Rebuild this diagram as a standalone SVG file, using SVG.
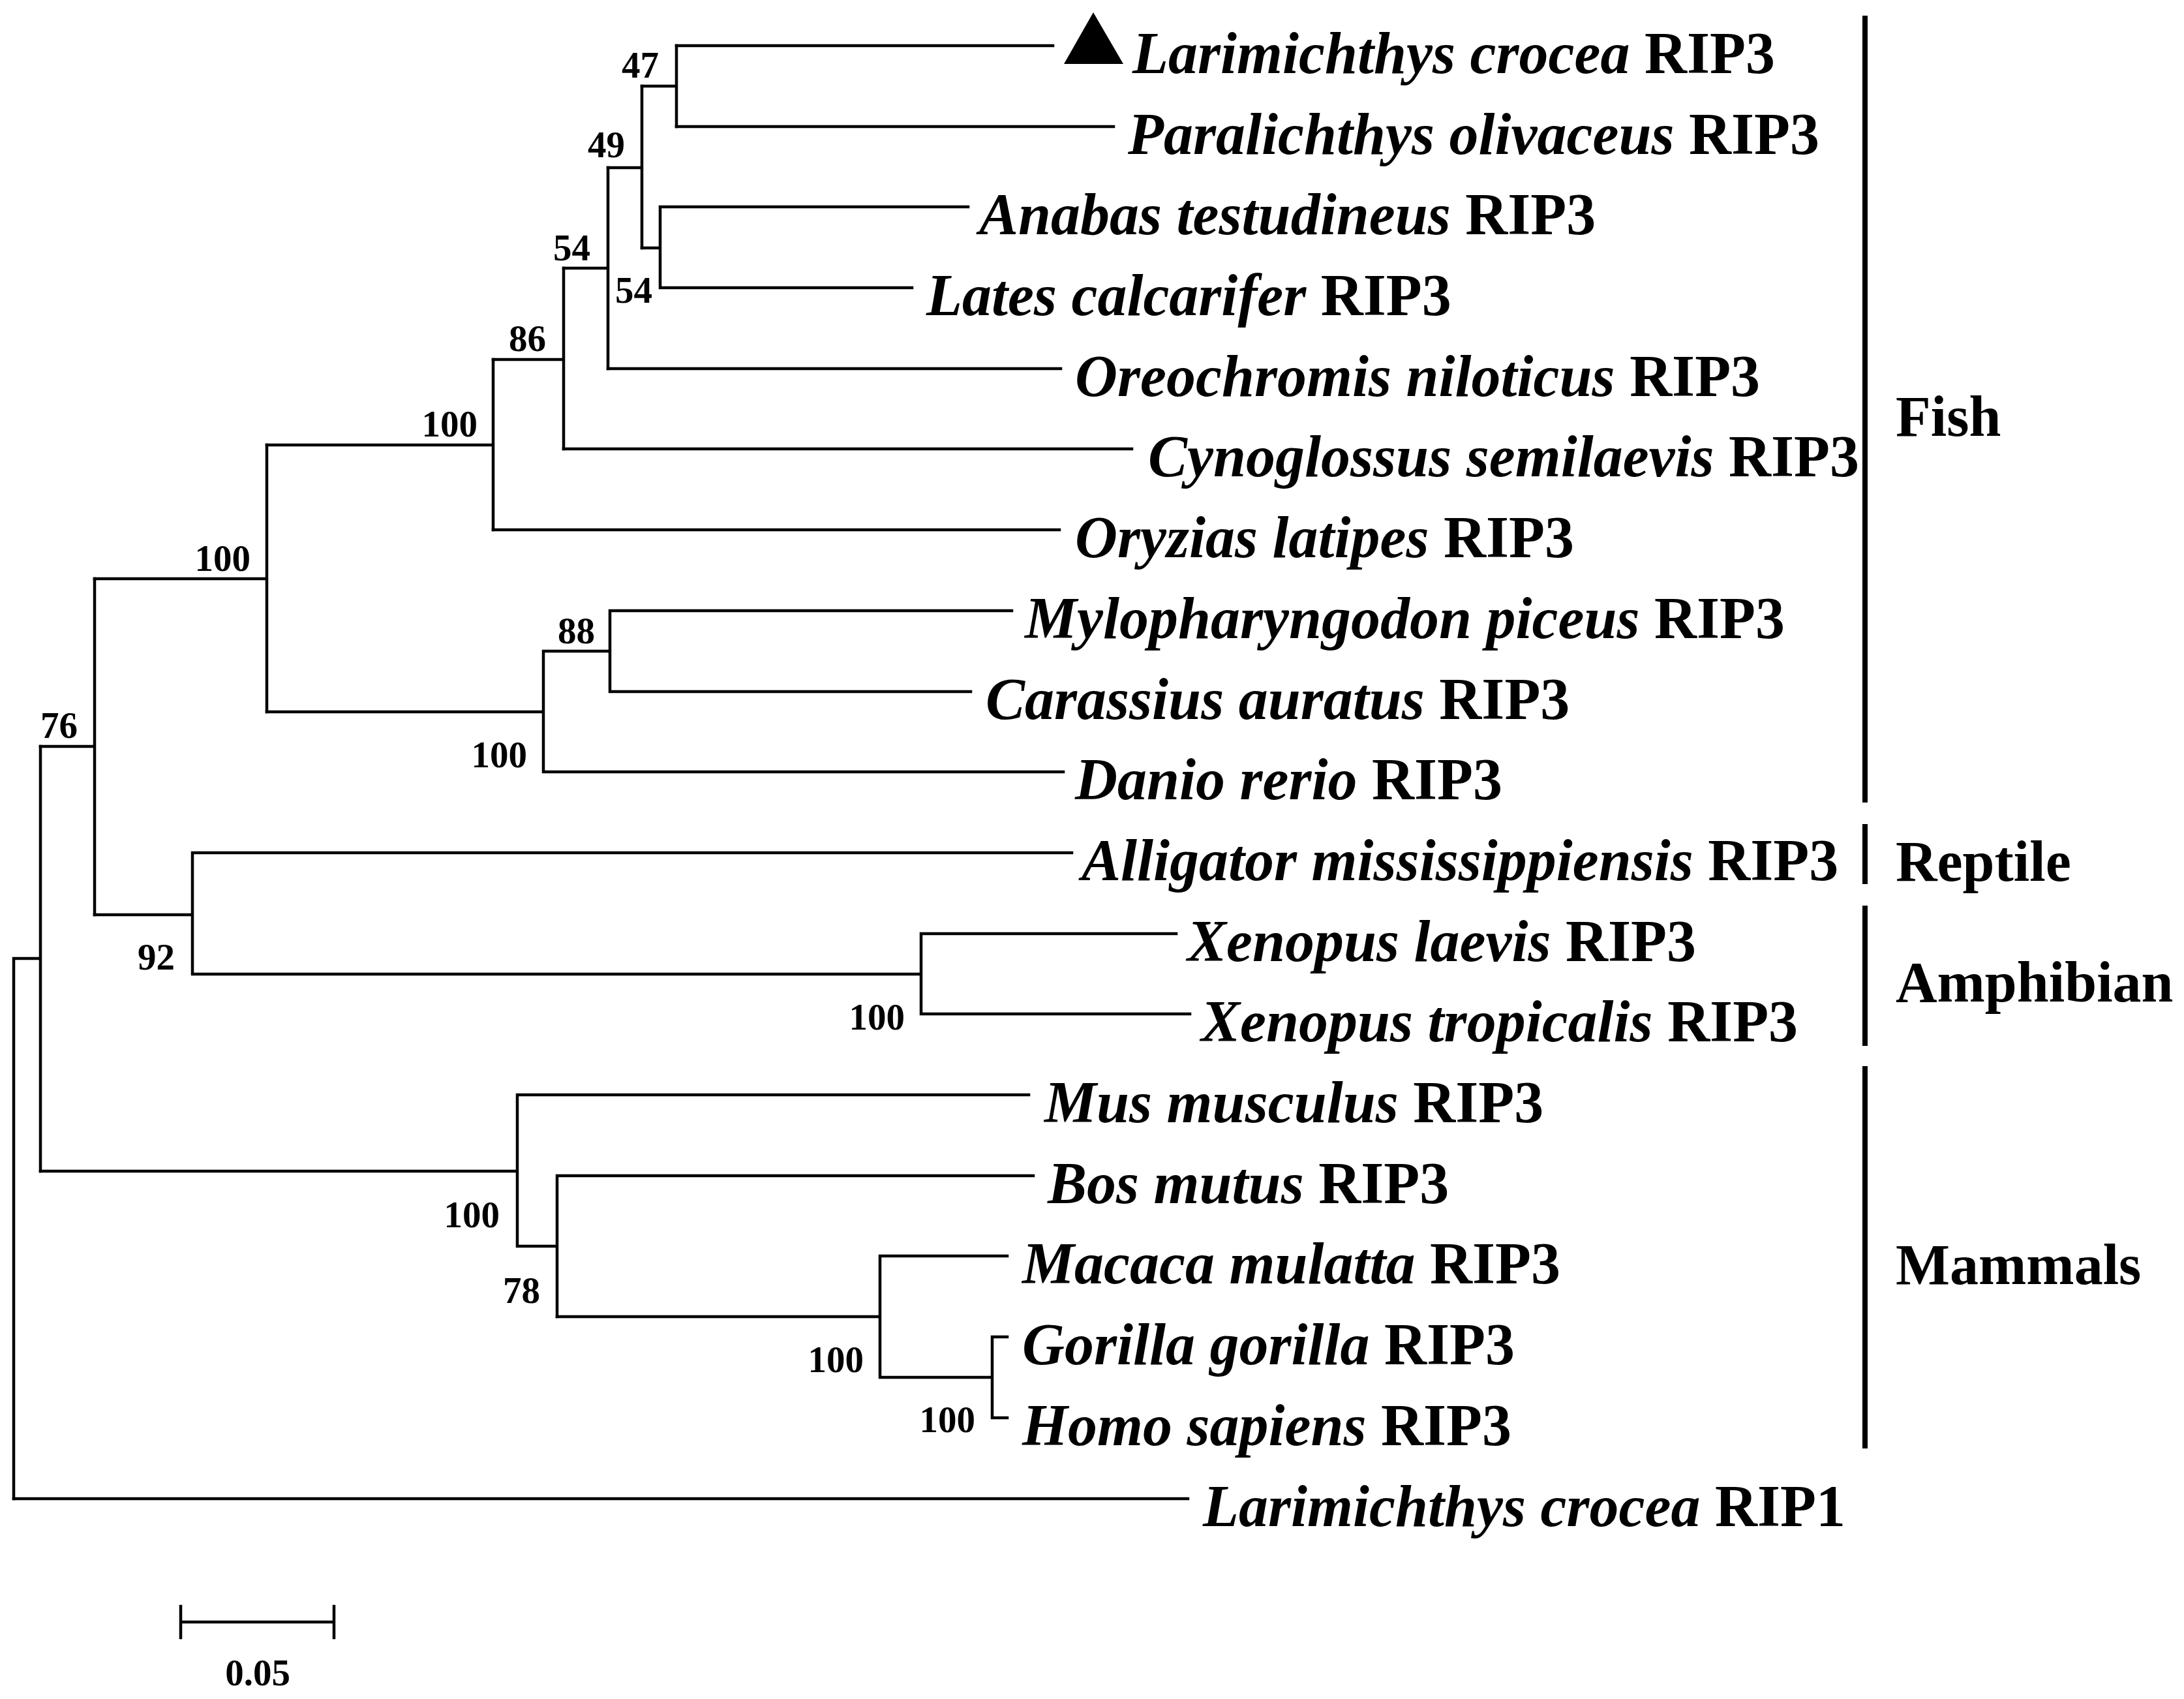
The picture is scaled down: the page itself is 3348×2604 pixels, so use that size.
<svg xmlns="http://www.w3.org/2000/svg" width="3348" height="2604" viewBox="0 0 3348 2604">
<style>
.br{fill:none;stroke:#000;stroke-width:4.5;stroke-linecap:square}
.grp{fill:none;stroke:#000;stroke-width:8}
.sp{font-family:"Liberation Serif","Times New Roman",serif;font-size:90px;font-weight:bold;fill:#000}
.sp .i{font-style:italic}
.bs{font-family:"Liberation Serif","Times New Roman",serif;font-size:57px;font-weight:bold;fill:#000;text-anchor:end}
.gl{font-family:"Liberation Serif","Times New Roman",serif;font-size:88px;font-weight:bold;fill:#000}
</style>
<rect width="3348" height="2604" fill="#fff"/>
<g id="connectors" class="br">
<path d="M21,1469 V2297 M21,1469 H62 M62,1144 V1795"/>
<path d="M62,1144 H145 M145,887 V1402"/>
<path d="M145,887 H409 M409,682 V1091"/>
<path d="M409,682 H756 M756,551 V812"/>
<path d="M756,551 H864 M864,411 V688"/>
<path d="M864,411 H932 M932,257 V565"/>
<path d="M932,257 H984 M984,132 V380"/>
<path d="M984,132 H1037 M1037,70 V194"/>
<path d="M1037,70 H1614 M1037,194 H1707"/>
<path d="M984,380 H1012 M1012,317 V441 M1012,317 H1484 M1012,441 H1398"/>
<path d="M932,565 H1626 M864,688 H1735 M756,812 H1624"/>
<path d="M409,1091 H833 M833,998 V1183 M833,998 H935 M935,936 V1060 M935,936 H1551 M935,1060 H1488 M833,1183 H1630"/>
<path d="M145,1402 H295 M295,1307 V1493 M295,1307 H1643 M295,1493 H1412 M1412,1431 V1554 M1412,1431 H1803 M1412,1554 H1824"/>
<path d="M62,1795 H793 M793,1678 V1910 M793,1678 H1577 M793,1910 H854 M854,1802 V2018 M854,1802 H1584"/>
<path d="M854,2018 H1349 M1349,1925 V2111 M1349,1925 H1544 M1349,2111 H1521 M1521,2049 V2173 M1521,2049 H1544 M1521,2173 H1544"/>
<path d="M21,2297 H1821"/>
</g>
<g id="bootstrap">
<text class="bs" x="1010" y="119">47</text>
<text class="bs" x="958" y="241">49</text>
<text class="bs" x="905" y="399">54</text>
<text class="bs" x="1000" y="464">54</text>
<text class="bs" x="837" y="538">86</text>
<text class="bs" x="732" y="669">100</text>
<text class="bs" x="384" y="875">100</text>
<text class="bs" x="912" y="986">88</text>
<text class="bs" x="808" y="1176">100</text>
<text class="bs" x="119" y="1131">76</text>
<text class="bs" x="268" y="1486">92</text>
<text class="bs" x="1387" y="1578">100</text>
<text class="bs" x="766" y="1881">100</text>
<text class="bs" x="828" y="1997">78</text>
<text class="bs" x="1324" y="2103">100</text>
<text class="bs" x="1495" y="2195">100</text>
</g>
<g id="marker-triangle"><polygon points="1676,19 1631,98 1722,98" fill="#000"/></g>
<g id="leaf-lc-rip3"><text class="sp" x="1736" y="112"><tspan class="i">Larimichthys crocea</tspan> RIP3</text></g>
<g id="leaf-po"><text class="sp" x="1729" y="236"><tspan class="i">Paralichthys olivaceus</tspan> RIP3</text></g>
<g id="leaf-at"><text class="sp" x="1501" y="359"><tspan class="i">Anabas testudineus</tspan> RIP3</text></g>
<g id="leaf-lcal"><text class="sp" x="1420" y="483"><tspan class="i">Lates calcarifer</tspan> RIP3</text></g>
<g id="leaf-on"><text class="sp" x="1648" y="607"><tspan class="i">Oreochromis niloticus</tspan> RIP3</text></g>
<g id="leaf-cs"><text class="sp" x="1760" y="730"><tspan class="i">Cynoglossus semilaevis</tspan> RIP3</text></g>
<g id="leaf-ol"><text class="sp" x="1648" y="854"><tspan class="i">Oryzias latipes</tspan> RIP3</text></g>
<g id="leaf-mp"><text class="sp" x="1571" y="978"><tspan class="i">Mylopharyngodon piceus</tspan> RIP3</text></g>
<g id="leaf-ca"><text class="sp" x="1511" y="1102"><tspan class="i">Carassius auratus</tspan> RIP3</text></g>
<g id="leaf-dr"><text class="sp" x="1648" y="1225"><tspan class="i">Danio rerio</tspan> RIP3</text></g>
<g id="leaf-am"><text class="sp" x="1658" y="1349"><tspan class="i">Alligator mississippiensis</tspan> RIP3</text></g>
<g id="leaf-xl"><text class="sp" x="1820" y="1473"><tspan class="i">Xenopus laevis</tspan> RIP3</text></g>
<g id="leaf-xt"><text class="sp" x="1841" y="1596"><tspan class="i">Xenopus tropicalis</tspan> RIP3</text></g>
<g id="leaf-mm"><text class="sp" x="1601" y="1720"><tspan class="i">Mus musculus</tspan> RIP3</text></g>
<g id="leaf-bm"><text class="sp" x="1606" y="1844"><tspan class="i">Bos mutus</tspan> RIP3</text></g>
<g id="leaf-mmu"><text class="sp" x="1567" y="1967"><tspan class="i">Macaca mulatta</tspan> RIP3</text></g>
<g id="leaf-gg"><text class="sp" x="1567" y="2091"><tspan class="i">Gorilla gorilla</tspan> RIP3</text></g>
<g id="leaf-hs"><text class="sp" x="1567" y="2215"><tspan class="i">Homo sapiens</tspan> RIP3</text></g>
<g id="leaf-lc-rip1"><text class="sp" x="1844" y="2339"><tspan class="i">Larimichthys crocea</tspan> RIP1</text></g>
<g id="group-fish"><line class="grp" x1="2859" y1="24" x2="2859" y2="1230"/><text class="gl" x="2906" y="668">Fish</text></g>
<g id="group-reptile"><line class="grp" x1="2859" y1="1263" x2="2859" y2="1355"/><text class="gl" x="2906" y="1350">Reptile</text></g>
<g id="group-amphibian"><line class="grp" x1="2859" y1="1388" x2="2859" y2="1603"/><text class="gl" x="2906" y="1535">Amphibian</text></g>
<g id="group-mammals"><line class="grp" x1="2859" y1="1634" x2="2859" y2="2220"/><text class="gl" x="2906" y="1968">Mammals</text></g>
<g id="scale-bar">
<path class="br" d="M277,2486 H512 M277,2462 V2510 M512,2462 V2510"/>
<text class="bs" x="395" y="2583" style="text-anchor:middle">0.05</text>
</g>
</svg>
